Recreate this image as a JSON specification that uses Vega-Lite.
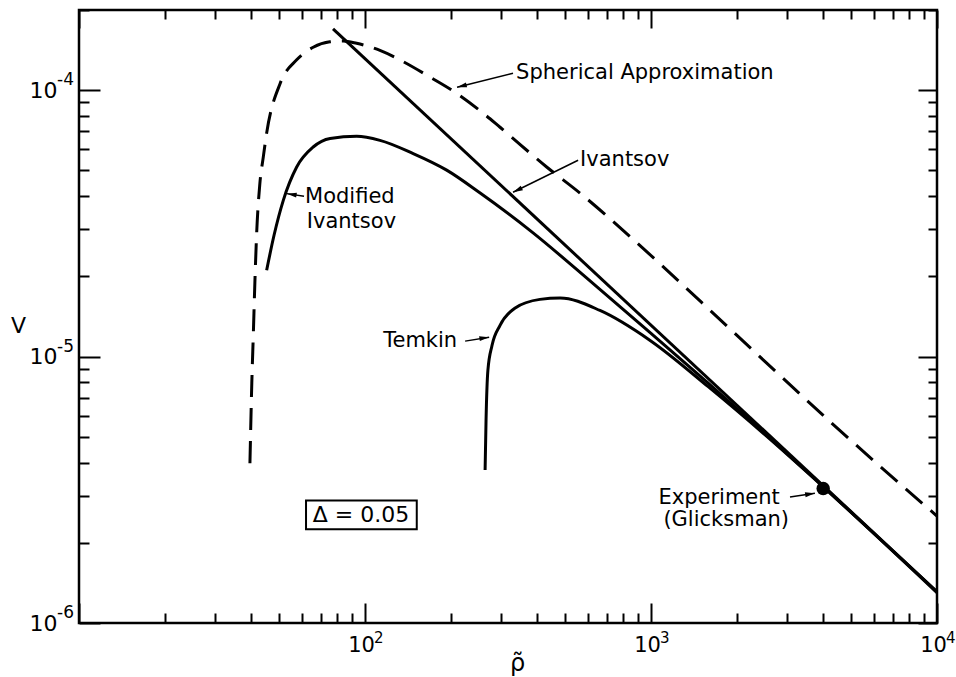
{
  "$schema": "https://vega.github.io/schema/vega-lite/v6.json",
  "width": 858,
  "height": 613,
  "autosize": "none",
  "padding": {"left": 79, "top": 10, "right": 19, "bottom": 54},
  "background": "white",
  "config": {
    "view": {"stroke": "black", "strokeWidth": 2.5},
    "font": "DejaVu Sans",
    "axis": {"domain": false, "grid": false, "tickColor": "black", "tickWidth": 2, "labelColor": "black", "labelFont": "DejaVu Sans", "labelFontSize": 22, "titleColor": "black", "titleFont": "DejaVu Sans", "titleFontWeight": "normal", "labelOverlap": false, "labelFlush": false, "labelBound": false}
  },
  "datasets": {
    "curves": [
      {"series": "Ivantsov", "x": 77.3, "y": 0.000170},
      {"series": "Ivantsov", "x": 10000, "y": 0.00000131},
      {"series": "Spherical", "x": 39.6, "y": 0.00000398},
      {"series": "Spherical", "x": 40.2, "y": 0.00000796},
      {"series": "Spherical", "x": 40.7, "y": 0.0000122},
      {"series": "Spherical", "x": 41.2, "y": 0.0000189},
      {"series": "Spherical", "x": 41.8, "y": 0.0000290},
      {"series": "Spherical", "x": 42.9, "y": 0.0000447},
      {"series": "Spherical", "x": 44.1, "y": 0.0000562},
      {"series": "Spherical", "x": 45.3, "y": 0.0000690},
      {"series": "Spherical", "x": 50.5, "y": 0.000106},
      {"series": "Spherical", "x": 57.7, "y": 0.000130},
      {"series": "Spherical", "x": 65.9, "y": 0.000145},
      {"series": "Spherical", "x": 75.4, "y": 0.000152},
      {"series": "Spherical", "x": 84.0, "y": 0.000153},
      {"series": "Spherical", "x": 93.5, "y": 0.000150},
      {"series": "Spherical", "x": 112.8, "y": 0.000141},
      {"series": "Spherical", "x": 136, "y": 0.000128},
      {"series": "Spherical", "x": 168.7, "y": 0.000112},
      {"series": "Spherical", "x": 209.2, "y": 0.0000973},
      {"series": "Spherical", "x": 259.2, "y": 0.0000819},
      {"series": "Spherical", "x": 296.6, "y": 0.0000726},
      {"series": "Spherical", "x": 431.7, "y": 0.0000515},
      {"series": "Spherical", "x": 564.5, "y": 0.0000411},
      {"series": "Spherical", "x": 845, "y": 0.0000282},
      {"series": "Spherical", "x": 1500, "y": 0.0000160},
      {"series": "Spherical", "x": 2500, "y": 0.0000096},
      {"series": "Spherical", "x": 4227, "y": 0.0000057},
      {"series": "Spherical", "x": 10000, "y": 0.00000252},
      {"series": "Modified", "x": 45.3, "y": 0.0000211},
      {"series": "Modified", "x": 48.1, "y": 0.0000286},
      {"series": "Modified", "x": 51.8, "y": 0.0000386},
      {"series": "Modified", "x": 57.7, "y": 0.0000515},
      {"series": "Modified", "x": 65.9, "y": 0.0000612},
      {"series": "Modified", "x": 75.5, "y": 0.0000659},
      {"series": "Modified", "x": 93.5, "y": 0.0000671},
      {"series": "Modified", "x": 112.8, "y": 0.0000648},
      {"series": "Modified", "x": 147.4, "y": 0.0000578},
      {"series": "Modified", "x": 193, "y": 0.0000501},
      {"series": "Modified", "x": 252, "y": 0.0000412},
      {"series": "Modified", "x": 386, "y": 0.0000292},
      {"series": "Modified", "x": 631, "y": 0.0000187},
      {"series": "Modified", "x": 1000, "y": 0.00001222},
      {"series": "Modified", "x": 1585, "y": 0.00000795},
      {"series": "Modified", "x": 2512, "y": 0.00000512},
      {"series": "Modified", "x": 3981, "y": 0.00000327},
      {"series": "Modified", "x": 10000, "y": 0.00000131},
      {"series": "Temkin", "x": 263, "y": 0.00000375},
      {"series": "Temkin", "x": 265, "y": 0.00000578},
      {"series": "Temkin", "x": 269, "y": 0.00000889},
      {"series": "Temkin", "x": 278, "y": 0.0000110},
      {"series": "Temkin", "x": 296.6, "y": 0.0000131},
      {"series": "Temkin", "x": 334, "y": 0.0000152},
      {"series": "Temkin", "x": 409, "y": 0.0000164},
      {"series": "Temkin", "x": 481, "y": 0.0000166},
      {"series": "Temkin", "x": 663, "y": 0.0000149},
      {"series": "Temkin", "x": 993, "y": 0.0000115},
      {"series": "Temkin", "x": 1585, "y": 0.00000771},
      {"series": "Temkin", "x": 2512, "y": 0.00000507},
      {"series": "Temkin", "x": 3981, "y": 0.00000326},
      {"series": "Temkin", "x": 10000, "y": 0.0000013}
    ],
    "experiment": [{"x": 4000, "y": 0.0000032}],
    "arrows": [
      {"id": "sph", "x": 329.3, "y": 0.0001158, "x2": 209.8, "y2": 0.0001026},
      {"id": "iv", "x": 556, "y": 0.0000546, "x2": 329.3, "y2": 0.0000414},
      {"id": "mod", "x": 61.2, "y": 0.0000400, "x2": 53.3, "y2": 0.0000409},
      {"id": "tem", "x": 223.9, "y": 0.00001143, "x2": 271.7, "y2": 0.00001183},
      {"id": "exp", "x": 3062, "y": 0.00000297, "x2": 3742, "y2": 0.00000307}
    ],
    "labels": [
      {"label": "Spherical Approximation", "x": 337.6, "y": 0.000116},
      {"label": "Ivantsov", "x": 565, "y": 0.0000546},
      {"label": "Modified", "x": 61.7, "y": 0.0000398},
      {"label": "Ivantsov", "x": 62.6, "y": 0.0000321},
      {"label": "Temkin", "x": 115.8, "y": 0.0000114},
      {"label": "Experiment", "x": 1062, "y": 0.00000294},
      {"label": "(Glicksman)", "x": 1105, "y": 0.00000243}
    ],
    "delta": [{"label": "Δ = 0.05", "x": 96.8, "y": 0.00000254, "x1": 62.2, "x2": 151.7, "y1": 0.00000288, "y2": 0.00000225}],
    "xexp": [
      {"x": 100, "y": 0.000001, "t": "2"},
      {"x": 1000, "y": 0.000001, "t": "3"},
      {"x": 10000, "y": 0.000001, "t": "4"}
    ],
    "yexp": [
      {"x": 10, "y": 0.0001, "t": "-4"},
      {"x": 10, "y": 0.00001, "t": "-5"},
      {"x": 10, "y": 0.000001, "t": "-6"}
    ]
  },
  "layer": [
    {
      "data": {"name": "curves"},
      "transform": [{"filter": "datum.series == 'Ivantsov'"}],
      "mark": {"type": "line", "color": "black", "strokeWidth": 3},
      "encoding": {
        "x": {"field": "x", "type": "quantitative", "scale": {"type": "log", "domain": [10, 10000]},
          "axis": {"orient": "bottom", "values": [10,20,30,40,50,60,70,80,90,100,200,300,400,500,600,700,800,900,1000,2000,3000,4000,5000,6000,7000,8000,9000,10000],
            "labelExpr": "datum.value==100||datum.value==1000||datum.value==10000?'10':''",
            "tickSize": {"condition": {"test": "datum.value==10||datum.value==100||datum.value==1000||datum.value==10000", "value": -20}, "value": -10},
            "labelPadding": 31, "labelOffset": -4, "labelFontSize": 21,
            "title": "ρ̃", "titleFontSize": 24, "titleX": 438, "titleY": 40, "titleAlign": "center", "titleBaseline": "middle"}},
        "y": {"field": "y", "type": "quantitative", "scale": {"type": "log", "domain": [0.000001, 0.0002]},
          "axis": {"orient": "left", "values": [0.000001,0.000002,0.000003,0.000004,0.000005,0.000006,0.000007,0.000008,0.000009,0.00001,0.00002,0.00003,0.00004,0.00005,0.00006,0.00007,0.00008,0.00009,0.0001,0.0002],
            "labelExpr": "datum.value==0.0001||datum.value==0.00001||datum.value==0.000001?'10':''",
            "tickSize": {"condition": {"test": "datum.value==0.000001||datum.value==0.00001||datum.value==0.0001", "value": -21}, "value": -10},
            "labelPadding": 43,
            "title": "V", "titleFontSize": 22, "titleAngle": 0, "titleX": -61, "titleY": 315, "titleAlign": "center", "titleBaseline": "middle"}}
      }
    },
    {
      "data": {"name": "curves"},
      "transform": [{"filter": "datum.series == 'Spherical'"}],
      "mark": {"type": "line", "color": "black", "strokeWidth": 3, "strokeDash": [22, 11], "interpolate": "monotone"},
      "encoding": {
        "x": {"field": "x", "type": "quantitative", "scale": {"type": "log", "domain": [10, 10000]},
          "axis": {"orient": "top", "values": [10,20,30,40,50,60,70,80,90,100,200,300,400,500,600,700,800,900,1000,2000,3000,4000,5000,6000,7000,8000,9000,10000],
            "labels": false, "title": null,
            "tickSize": {"condition": {"test": "datum.value==10||datum.value==100||datum.value==1000||datum.value==10000", "value": -18}, "value": -9}}},
        "y": {"field": "y", "type": "quantitative", "scale": {"type": "log", "domain": [0.000001, 0.0002]},
          "axis": {"orient": "right", "values": [0.000001,0.000002,0.000003,0.000004,0.000005,0.000006,0.000007,0.000008,0.000009,0.00001,0.00002,0.00003,0.00004,0.00005,0.00006,0.00007,0.00008,0.00009,0.0001,0.0002],
            "labels": false, "title": null,
            "tickSize": {"condition": {"test": "datum.value==0.000001||datum.value==0.00001||datum.value==0.0001", "value": -19}, "value": -9}}}
      }
    },
    {
      "data": {"name": "curves"},
      "transform": [{"filter": "datum.series == 'Modified' || datum.series == 'Temkin'"}],
      "mark": {"type": "line", "color": "black", "strokeWidth": 3, "interpolate": "monotone"},
      "encoding": {
        "detail": {"field": "series"},
        "x": {"field": "x", "type": "quantitative", "scale": {"type": "log", "domain": [10, 10000]}, "axis": null},
        "y": {"field": "y", "type": "quantitative", "scale": {"type": "log", "domain": [0.000001, 0.0002]}, "axis": null}
      }
    },
    {
      "data": {"name": "experiment"},
      "mark": {"type": "point", "filled": true, "color": "black", "opacity": 1, "size": 180},
      "encoding": {
        "x": {"field": "x", "type": "quantitative", "scale": {"type": "log", "domain": [10, 10000]}, "axis": null},
        "y": {"field": "y", "type": "quantitative", "scale": {"type": "log", "domain": [0.000001, 0.0002]}, "axis": null}
      }
    },
    {
      "data": {"name": "arrows"},
      "mark": {"type": "rule", "color": "black", "strokeWidth": 1.5},
      "encoding": {
        "x": {"field": "x", "type": "quantitative", "scale": {"type": "log", "domain": [10, 10000]}, "axis": null},
        "y": {"field": "y", "type": "quantitative", "scale": {"type": "log", "domain": [0.000001, 0.0002]}, "axis": null},
        "x2": {"field": "x2"},
        "y2": {"field": "y2"}
      }
    },
    {
      "data": {"name": "arrows"},
      "transform": [{"filter": "datum.id == 'sph'"}],
      "mark": {"type": "point", "filled": true, "color": "black", "opacity": 1, "size": 150, "shape": "M0,0 L0.4,1.6 L-0.4,1.6 Z", "angle": 256},
      "encoding": {
        "x": {"field": "x2", "type": "quantitative", "scale": {"type": "log", "domain": [10, 10000]}, "axis": null},
        "y": {"field": "y2", "type": "quantitative", "scale": {"type": "log", "domain": [0.000001, 0.0002]}, "axis": null}
      }
    },
    {
      "data": {"name": "arrows"},
      "transform": [{"filter": "datum.id == 'iv'"}],
      "mark": {"type": "point", "filled": true, "color": "black", "opacity": 1, "size": 150, "shape": "M0,0 L0.4,1.6 L-0.4,1.6 Z", "angle": 244},
      "encoding": {
        "x": {"field": "x2", "type": "quantitative", "scale": {"type": "log", "domain": [10, 10000]}, "axis": null},
        "y": {"field": "y2", "type": "quantitative", "scale": {"type": "log", "domain": [0.000001, 0.0002]}, "axis": null}
      }
    },
    {
      "data": {"name": "arrows"},
      "transform": [{"filter": "datum.id == 'mod'"}],
      "mark": {"type": "point", "filled": true, "color": "black", "opacity": 1, "size": 150, "shape": "M0,0 L0.4,1.6 L-0.4,1.6 Z", "angle": 279},
      "encoding": {
        "x": {"field": "x2", "type": "quantitative", "scale": {"type": "log", "domain": [10, 10000]}, "axis": null},
        "y": {"field": "y2", "type": "quantitative", "scale": {"type": "log", "domain": [0.000001, 0.0002]}, "axis": null}
      }
    },
    {
      "data": {"name": "arrows"},
      "transform": [{"filter": "datum.id == 'tem' || datum.id == 'exp'"}],
      "mark": {"type": "point", "filled": true, "color": "black", "opacity": 1, "size": 150, "shape": "M0,0 L0.4,1.6 L-0.4,1.6 Z", "angle": 81},
      "encoding": {
        "x": {"field": "x2", "type": "quantitative", "scale": {"type": "log", "domain": [10, 10000]}, "axis": null},
        "y": {"field": "y2", "type": "quantitative", "scale": {"type": "log", "domain": [0.000001, 0.0002]}, "axis": null}
      }
    },
    {
      "data": {"name": "labels"},
      "mark": {"type": "text", "align": "left", "baseline": "middle", "fontSize": 21, "color": "black", "font": "DejaVu Sans"},
      "encoding": {
        "x": {"field": "x", "type": "quantitative", "scale": {"type": "log", "domain": [10, 10000]}, "axis": null},
        "y": {"field": "y", "type": "quantitative", "scale": {"type": "log", "domain": [0.000001, 0.0002]}, "axis": null},
        "text": {"field": "label"}
      }
    },
    {
      "data": {"name": "delta"},
      "mark": {"type": "rect", "filled": false, "stroke": "black", "strokeWidth": 2},
      "encoding": {
        "x": {"field": "x1", "type": "quantitative", "scale": {"type": "log", "domain": [10, 10000]}, "axis": null},
        "y": {"field": "y1", "type": "quantitative", "scale": {"type": "log", "domain": [0.000001, 0.0002]}, "axis": null},
        "x2": {"field": "x2"},
        "y2": {"field": "y2"}
      }
    },
    {
      "data": {"name": "delta"},
      "mark": {"type": "text", "align": "center", "baseline": "middle", "fontSize": 22, "color": "black", "font": "DejaVu Sans"},
      "encoding": {
        "x": {"field": "x", "type": "quantitative", "scale": {"type": "log", "domain": [10, 10000]}, "axis": null},
        "y": {"field": "y", "type": "quantitative", "scale": {"type": "log", "domain": [0.000001, 0.0002]}, "axis": null},
        "text": {"field": "label"}
      }
    },
    {
      "data": {"name": "xexp"},
      "mark": {"type": "text", "align": "left", "baseline": "middle", "fontSize": 15, "color": "black", "font": "DejaVu Sans", "dx": 9, "dy": 15},
      "encoding": {
        "x": {"field": "x", "type": "quantitative", "scale": {"type": "log", "domain": [10, 10000]}, "axis": null},
        "y": {"field": "y", "type": "quantitative", "scale": {"type": "log", "domain": [0.000001, 0.0002]}, "axis": null},
        "text": {"field": "t"}
      }
    },
    {
      "data": {"name": "yexp"},
      "mark": {"type": "text", "align": "left", "baseline": "middle", "fontSize": 17, "color": "black", "font": "DejaVu Sans", "dx": -22, "dy": -10},
      "encoding": {
        "x": {"field": "x", "type": "quantitative", "scale": {"type": "log", "domain": [10, 10000]}, "axis": null},
        "y": {"field": "y", "type": "quantitative", "scale": {"type": "log", "domain": [0.000001, 0.0002]}, "axis": null},
        "text": {"field": "t"}
      }
    }
  ],
  "resolve": {"axis": {"x": "independent", "y": "independent"}}
}
